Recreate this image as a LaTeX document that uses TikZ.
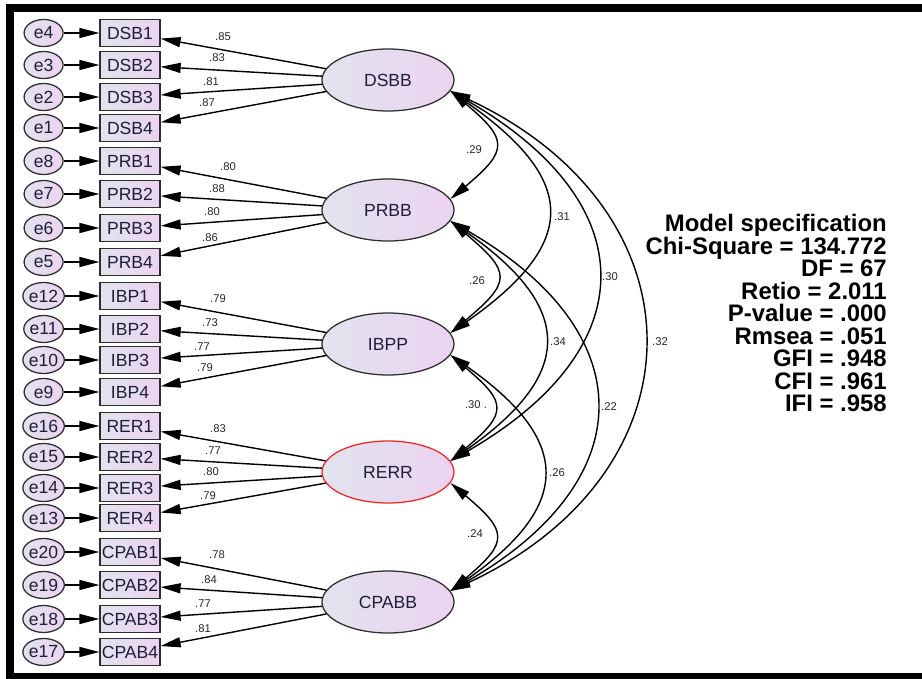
\documentclass[tikz,border=0pt]{standalone}
\usepackage{fontspec}
\setmainfont{Liberation Sans}
\usetikzlibrary{arrows.meta,shapes.geometric}
\definecolor{fillL}{RGB}{225,227,238}
\definecolor{fillR}{RGB}{236,211,241}
\definecolor{rimgray}{RGB}{45,45,45}
\definecolor{inktext}{RGB}{30,30,55}
\definecolor{rimred}{RGB}{240,40,40}

\begin{document}
\begin{tikzpicture}[
  >={Triangle[length=5mm,width=2.5mm]},
  err/.style={ellipse, draw=rimgray, line width=0.9pt, left color=fillL, right color=fillR, minimum width=0.975cm, minimum height=0.675cm, inner sep=0pt, text=inktext, font=\fontsize{12.5}{14}\selectfont},
  obs/.style={rectangle, draw=rimgray, line width=0.9pt, left color=fillL, right color=fillR, minimum width=1.5cm, minimum height=0.675cm, inner sep=0pt, text=inktext, font=\fontsize{12.5}{14}\selectfont},
  lat/.style={ellipse, draw=rimgray, line width=0.9pt, left color=fillL, right color=fillR, minimum width=3.3cm, minimum height=1.55cm, inner sep=0pt, text=inktext, font=\fontsize{12.5}{14}\selectfont},
  wt/.style={inner sep=0pt, text=black!85, font=\fontsize{8}{9}\selectfont},
  link/.style={->, line width=1pt},
  cov/.style={<->, line width=1pt},
]
\useasboundingbox (0,0) rectangle (23.05,-16.975);

\fill (0.15,-0.1) rectangle (23.05,-0.3);
\fill (0.15,-0.1) rectangle (0.34,-16.975);
\fill (0.15,-16.825) rectangle (23.05,-16.975);

\node [lat] (DSBB) at (9.7,-2.0) {DSBB};
\node [lat] (PRBB) at (9.7,-5.25) {PRBB};
\node [lat] (IBPP) at (9.7,-8.6) {IBPP};
\node [lat, draw=rimred] (RERR) at (9.7,-11.8) {RERR};
\node [lat] (CPABB) at (9.7,-15.05) {CPABB};

\node [obs] (DSB1) at (3.25,-0.825) {DSB1};
\node [obs] (DSB2) at (3.25,-1.625) {DSB2};
\node [obs] (DSB3) at (3.25,-2.425) {DSB3};
\node [obs] (DSB4) at (3.25,-3.2) {DSB4};
\node [obs] (PRB1) at (3.25,-4.025) {PRB1};
\node [obs] (PRB2) at (3.25,-4.85) {PRB2};
\node [obs] (PRB3) at (3.25,-5.7) {PRB3};
\node [obs] (PRB4) at (3.25,-6.55) {PRB4};
\node [obs] (IBP1) at (3.25,-7.4) {IBP1};
\node [obs] (IBP2) at (3.25,-8.225) {IBP2};
\node [obs] (IBP3) at (3.25,-9.0) {IBP3};
\node [obs] (IBP4) at (3.25,-9.8) {IBP4};
\node [obs] (RER1) at (3.25,-10.65) {RER1};
\node [obs] (RER2) at (3.25,-11.425) {RER2};
\node [obs] (RER3) at (3.25,-12.2) {RER3};
\node [obs] (RER4) at (3.25,-12.95) {RER4};
\node [obs] (CPAB1) at (3.25,-13.8) {CPAB1};
\node [obs] (CPAB2) at (3.25,-14.625) {CPAB2};
\node [obs] (CPAB3) at (3.25,-15.475) {CPAB3};
\node [obs] (CPAB4) at (3.25,-16.3) {CPAB4};

\node [err] (e4) at (1.09,-0.825) {e4};
\node [err] (e3) at (1.09,-1.625) {e3};
\node [err] (e2) at (1.09,-2.425) {e2};
\node [err] (e1) at (1.09,-3.2) {e1};
\node [err] (e8) at (1.09,-4.025) {e8};
\node [err] (e7) at (1.09,-4.85) {e7};
\node [err] (e6) at (1.09,-5.7) {e6};
\node [err] (e5) at (1.09,-6.55) {e5};
\node [err] (e12) at (1.09,-7.4) {e12};
\node [err] (e11) at (1.09,-8.225) {e11};
\node [err] (e10) at (1.09,-9.0) {e10};
\node [err] (e9) at (1.09,-9.8) {e9};
\node [err] (e16) at (1.09,-10.65) {e16};
\node [err] (e15) at (1.09,-11.425) {e15};
\node [err] (e14) at (1.09,-12.2) {e14};
\node [err] (e13) at (1.09,-12.95) {e13};
\node [err] (e20) at (1.09,-13.8) {e20};
\node [err] (e19) at (1.09,-14.625) {e19};
\node [err] (e18) at (1.09,-15.475) {e18};
\node [err] (e17) at (1.09,-16.3) {e17};

\draw [link] (e4) -- (DSB1);
\draw [link] (e3) -- (DSB2);
\draw [link] (e2) -- (DSB3);
\draw [link] (e1) -- (DSB4);
\draw [link] (e8) -- (PRB1);
\draw [link] (e7) -- (PRB2);
\draw [link] (e6) -- (PRB3);
\draw [link] (e5) -- (PRB4);
\draw [link] (e12) -- (IBP1);
\draw [link] (e11) -- (IBP2);
\draw [link] (e10) -- (IBP3);
\draw [link] (e9) -- (IBP4);
\draw [link] (e16) -- (RER1);
\draw [link] (e15) -- (RER2);
\draw [link] (e14) -- (RER3);
\draw [link] (e13) -- (RER4);
\draw [link] (e20) -- (CPAB1);
\draw [link] (e19) -- (CPAB2);
\draw [link] (e18) -- (CPAB3);
\draw [link] (e17) -- (CPAB4);

\draw [link] (DSBB) -- (DSB1);
\draw [link] (DSBB) -- (DSB2);
\draw [link] (DSBB) -- (DSB3);
\draw [link] (DSBB) -- (DSB4);
\draw [link] (PRBB) -- (PRB1);
\draw [link] (PRBB) -- (PRB2);
\draw [link] (PRBB) -- (PRB3);
\draw [link] (PRBB) -- (PRB4);
\draw [link] (IBPP) -- (IBP1);
\draw [link] (IBPP) -- (IBP2);
\draw [link] (IBPP) -- (IBP3);
\draw [link] (IBPP) -- (IBP4);
\draw [link] (RERR) -- (RER1);
\draw [link] (RERR) -- (RER2);
\draw [link] (RERR) -- (RER3);
\draw [link] (RERR) -- (RER4);
\draw [link] (CPABB) -- (CPAB1);
\draw [link] (CPABB) -- (CPAB2);
\draw [link] (CPABB) -- (CPAB3);
\draw [link] (CPABB) -- (CPAB4);

\draw [cov] (DSBB.-10) to[out=-40, in=40, looseness=1.8] (PRBB.10);
\draw [cov] (PRBB.-10) to[out=-40, in=40, looseness=1.83] (IBPP.10);
\draw [cov] (IBPP.-10) to[out=-40, in=40, looseness=1.8] (RERR.10);
\draw [cov] (RERR.-10) to[out=-40, in=40, looseness=1.8] (CPABB.10);
\draw [cov] (DSBB.-10) to[out=-35, in=35, looseness=1.66] (IBPP.10);
\draw [cov] (PRBB.-10) to[out=-35, in=35, looseness=1.62] (RERR.10);
\draw [cov] (IBPP.-10) to[out=-35, in=35, looseness=1.62] (CPABB.10);
\draw [cov] (DSBB.-10) to[out=-30, in=30, looseness=1.56] (RERR.10);
\draw [cov] (PRBB.-10) to[out=-30, in=30, looseness=1.54] (CPABB.10);
\draw [cov] (DSBB.-10) to[out=-25, in=25, looseness=1.45] (CPABB.10);

\node [wt] (w1) at (5.575,-0.925) {.85};
\node [wt] (w2) at (5.425,-1.45) {.83};
\node [wt] (w3) at (5.275,-2.05) {.81};
\node [wt] (w4) at (5.175,-2.575) {.87};
\node [wt] (w5) at (5.7,-4.175) {.80};
\node [wt] (w6) at (5.425,-4.725) {.88};
\node [wt] (w7) at (5.3,-5.3) {.80};
\node [wt] (w8) at (5.25,-5.95) {.86};
\node [wt] (w9) at (5.45,-7.475) {.79};
\node [wt] (w10) at (5.25,-8.075) {.73};
\node [wt] (w11) at (5.05,-8.675) {.77};
\node [wt] (w12) at (5.125,-9.2) {.79};
\node [wt] (w13) at (5.45,-10.725) {.83};
\node [wt] (w14) at (5.325,-11.275) {.77};
\node [wt] (w15) at (5.275,-11.8) {.80};
\node [wt] (w16) at (5.2,-12.4) {.79};
\node [wt] (w17) at (5.425,-13.875) {.78};
\node [wt] (w18) at (5.225,-14.5) {.84};
\node [wt] (w19) at (5.075,-15.1) {.77};
\node [wt] (w20) at (5.075,-15.725) {.81};

\node [wt] (r1) at (11.85,-3.75) {.29};
\node [wt] (r2) at (11.925,-7.025) {.26};
\node [wt] (r3) at (11.9,-10.125) {.30 .};
\node [wt] (r4) at (11.875,-13.35) {.24};
\node [wt] (r5) at (14.05,-5.425) {.31};
\node [wt] (r6) at (13.95,-8.55) {.34};
\node [wt] (r7) at (13.925,-11.825) {.26};
\node [wt] (r8) at (15.25,-6.925) {.30};
\node [wt] (r9) at (15.225,-10.175) {.22};
\node [wt] (r10) at (16.5,-8.55) {.32};

\node [anchor=north east, align=right, inner sep=0pt, font=\bfseries\fontsize{17}{16}\selectfont] (spec) at (22.175,-5.35)
  {Model specification\\Chi-Square = 134.772\\DF = 67\\Retio = 2.011\\P-value = .000\\Rmsea = .051\\GFI = .948\\CFI = .961\\IFI = .958};
\end{tikzpicture}
\end{document}
